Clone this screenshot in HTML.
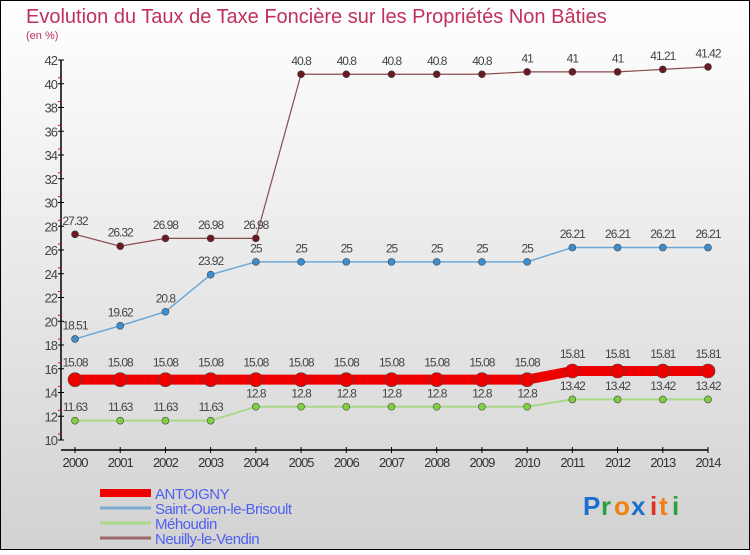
<!DOCTYPE html>
<html><head><meta charset="utf-8"><style>
body{margin:0;width:750px;height:550px;overflow:hidden;font-family:"Liberation Sans",sans-serif}
</style></head><body>
<svg width="750" height="550" xmlns="http://www.w3.org/2000/svg">
<defs><linearGradient id="bg" x1="0" y1="0" x2="0" y2="1"><stop offset="0" stop-color="#ffffff"/><stop offset="1" stop-color="#d2d2d2"/></linearGradient></defs>
<rect x="0.5" y="0.5" width="749" height="549" fill="url(#bg)" stroke="#000"/>
<text x="26" y="23" font-size="20" fill="#c0305a">Evolution du Taux de Taxe Foncière sur les Propriétés Non Bâties</text>
<text x="26" y="39" font-size="11" fill="#c0305a">(en %)</text>
<g id="axes"></g>
<g id="series"></g>
<g id="legend"></g>
<g font-size="26" font-weight="bold">
<text x="583" y="515" fill="#1a6fd0">P</text><text x="601" y="515" fill="#2aa040">r</text><text x="614" y="515" fill="#f08010">o</text><text x="631" y="515" fill="#1a6fd0">x</text><text x="650" y="515" fill="#e03020">i</text><text x="659" y="515" fill="#f08010">t</text><text x="672" y="515" fill="#2aa040">i</text>
</g>
</svg>
<script>
const years=[2000,2001,2002,2003,2004,2005,2006,2007,2008,2009,2010,2011,2012,2013,2014];
const antoigny=[15.08,15.08,15.08,15.08,15.08,15.08,15.08,15.08,15.08,15.08,15.08,15.81,15.81,15.81,15.81];
const saintOuen=[18.51,19.62,20.8,23.92,25,25,25,25,25,25,25,26.21,26.21,26.21,26.21];
const mehoudin=[11.63,11.63,11.63,11.63,12.8,12.8,12.8,12.8,12.8,12.8,12.8,13.42,13.42,13.42,13.42];
const neuilly=[27.32,26.32,26.98,26.98,26.98,40.8,40.8,40.8,40.8,40.8,41,41,41,41.21,41.42];
const yTicks=[10,12,14,16,18,20,22,24,26,28,30,32,34,36,38,40,42];
const NS="http://www.w3.org/2000/svg";
const x=i=>75+i*(633/14);
const y=v=>440-(v-10)*11.875;
function mk(tag,at,parent){const e=document.createElementNS(NS,tag);for(const k in at)e.setAttribute(k,at[k]);parent.appendChild(e);return e;}
const axes=document.getElementById('axes');
let e=mk('line',{x1:61,y1:60,x2:61,y2:440,stroke:'#000','stroke-width':1.5},axes);


e=mk('line',{x1:61,y1:450,x2:708,y2:450,stroke:'#000','stroke-width':1.5},axes);


yTicks.forEach(t=>{
 mk('line',{x1:58,y1:y(t),x2:64,y2:y(t),stroke:'#000'},axes);
 if(t<42) mk('line',{x1:58,y1:y(t)-5.94,x2:61,y2:y(t)-5.94,stroke:'#e00'},axes);
 const tx=mk('text',{x:57,y:y(t)+5,'font-size':13,'text-anchor':'end',fill:'#444','letter-spacing':'-1'},axes);
 tx.textContent=t;
 
 
});
years.forEach((yr,i)=>{
 mk('line',{x1:x(i),y1:447,x2:x(i),y2:453,stroke:'#000'},axes);
 const tx=mk('text',{x:x(i),y:467,'font-size':13,'text-anchor':'middle',fill:'#333','letter-spacing':'-1'},axes);
 tx.textContent=yr;
 
 
});
const sg=document.getElementById('series');
function series(data,color,lw,r,name,dot){
 const g=mk('g',{},sg);
 
 
 const p=mk('polyline',{points:data.map((v,i)=>x(i)+','+y(v)).join(' '),fill:'none',stroke:color,'stroke-width':lw},g);
 
 
 data.forEach((v,i)=>{
  const c=mk('circle',{cx:x(i),cy:y(v),r:r,fill:dot,stroke:'#444','stroke-width':0.6},g);
  
  
  const t=mk('text',{x:x(i),y:y(v)-(r+6),'font-size':12,'text-anchor':'middle',fill:'#444','letter-spacing':'-1'},g);
  t.textContent=v;
  
  
 });
}
series(mehoudin,'#a8d888',2,3.5,'mehoudin','#7ed040');
series(saintOuen,'#6aa8d8',1.5,3.5,'saint-ouen','#3d8ed0');
series(neuilly,'#8a4a50',1.2,3.5,'neuilly','#6a1a20');
series(antoigny,'#ee0000',10,7,'antoigny','#ee0000');
const lg=document.getElementById('legend');
[['ANTOIGNY','#ee0000',8],['Saint-Ouen-le-Brisoult','#7aaad0',3],['Méhoudin','#a8d888',3],['Neuilly-le-Vendin','#9a6a6a',3]].forEach((s,i)=>{
 const yy=493+i*15;
 const g=mk('g',{},lg);
 
 
 mk('line',{x1:100,y1:yy,x2:151,y2:yy,stroke:s[1],'stroke-width':s[2]},g);
 const t=mk('text',{x:155,y:yy+6,'font-size':15,fill:'#5060f0','letter-spacing':'-0.5'},g);
 t.textContent=s[0];
});
</script>
</body></html>
